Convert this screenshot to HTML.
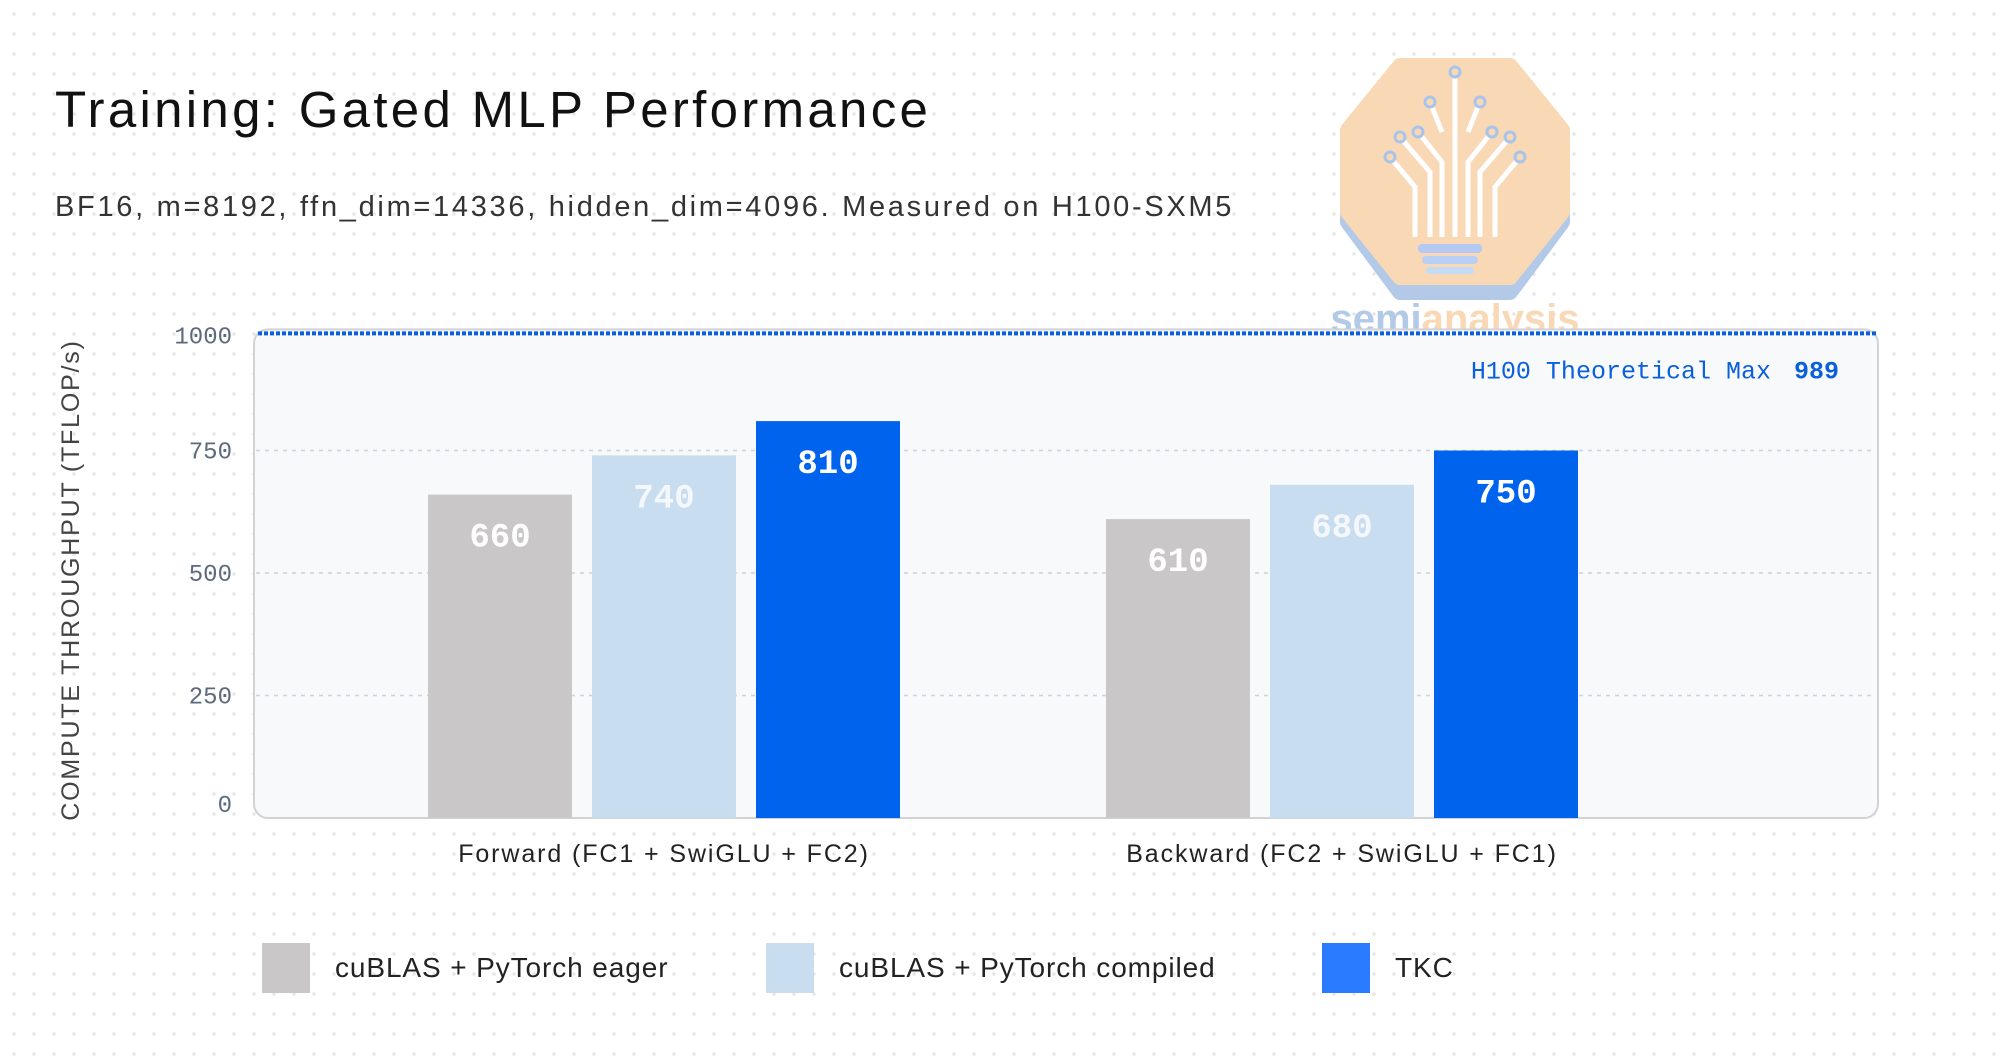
<!DOCTYPE html>
<html><head><meta charset="utf-8">
<style>
html,body{margin:0;padding:0}
body{width:2000px;height:1064px;overflow:hidden;position:relative;font-family:"Liberation Sans",sans-serif;
background-color:#fff;background-image:radial-gradient(circle,#e6e6e6 1.6px,transparent 2px);background-size:20px 20px;background-position:4px 4px}
.abs{position:absolute}
</style></head>
<body>
<div class="abs" style="left:55px;top:80px;font-size:51px;color:#111;white-space:nowrap;letter-spacing:3.3px">Training: Gated MLP Performance</div>
<div class="abs" style="left:55px;top:191px;font-size:29px;color:#333;white-space:nowrap;letter-spacing:2.7px">BF16, m=8192, ffn_dim=14336, hidden_dim=4096. Measured on H100-SXM5</div>

<svg class="abs" style="left:1330px;top:50px" width="260" height="300" viewBox="0 0 260 300">
 <g transform="translate(0,12)">
  <path d="M70 28 H180 L232 90 V150 L180 220 H70 L18 150 V90 Z" fill="#b3c9e8" stroke="#b3c9e8" stroke-width="16" stroke-linejoin="round" transform="translate(0,10)"/>
  <path d="M70 4 H180 L232 68 V150 L180 215 H70 L18 150 V68 Z" fill="#f9d8b6" stroke="#f9d8b6" stroke-width="16" stroke-linejoin="round"/>
  <g stroke="#fff" stroke-width="5" fill="none">
    <path d="M125 10 V175 M112 175 V100 L88 70 M138 175 V100 L162 70 M100 175 V110 L70 75 M150 175 V110 L180 75 M85 175 V125 L60 95 M165 175 V125 L190 95 M112 70 L100 40 M138 70 L150 40"/>
  </g>
  <g fill="#f9d8b6" stroke="#a9c4ea" stroke-width="3"><circle cx="125" cy="10" r="5"/><circle cx="100" cy="40" r="5"/><circle cx="150" cy="40" r="5"/><circle cx="70" cy="75" r="5"/><circle cx="180" cy="75" r="5"/><circle cx="60" cy="95" r="5"/><circle cx="190" cy="95" r="5"/><circle cx="88" cy="70" r="5"/><circle cx="162" cy="70" r="5"/></g>
  <rect x="88" y="182" width="64" height="9" rx="4" fill="#b3c9f3"/>
  <rect x="92" y="194" width="56" height="8" rx="4" fill="#b8d0f3"/>
  <rect x="96" y="205" width="48" height="7" rx="3" fill="#c5dcf5"/>
 </g>
  <text x="125" y="282" text-anchor="middle" font-family="Liberation Sans, sans-serif" font-weight="bold" font-size="40" fill="#b3c9e8">semi<tspan fill="#f9d8b6">analysis</tspan></text>
</svg>

<svg class="abs" id="chart" style="left:0;top:0" width="2000" height="1064"></svg>

<script>
const categories = ["Forward (FC1 + SwiGLU + FC2)", "Backward (FC2 + SwiGLU + FC1)"];
const seriesNames = ["cuBLAS + PyTorch eager", "cuBLAS + PyTorch compiled", "TKC"];
const eagerValues = [660, 610];
const compiledValues = [740, 680];
const tkcValues = [810, 750];
const yTicks = [0, 250, 500, 750, 1000];
const theoreticalMax = 989;

const svg = document.getElementById('chart');
const NS = 'http://www.w3.org/2000/svg';
const x0 = 254, x1 = 1878, yBase = 818, pxPerUnit = 0.49;
const yScale = v => yBase - v * pxPerUnit;
const groupCenters = [664, 1342];
const xScale = (g, s) => groupCenters[g] + (s - 1) * 164;
const barW = 144;
const colors = ["#c9c7c8", "#c8ddf0", "#0063ee"];
const legendColors = ["#c9c7c8", "#c8ddf0", "#2a7bff"];
const textColors = ["#fff", "#f4f8fc", "#fff"];
function mk(tag, attrs, txt){const e=document.createElementNS(NS,tag);for(const k in attrs)e.setAttribute(k,attrs[k]);if(txt!==undefined)e.textContent=txt;svg.appendChild(e);return e;}

const frame = mk('rect',{x:x0,y:yScale(theoreticalMax)-4,width:x1-x0,height:yBase-yScale(theoreticalMax)+4,rx:14,fill:'#f7f9fb',stroke:'#d2d3d5','stroke-width':2});



yTicks.forEach(t=>{
  const y=yScale(t);
  if(t>0 && t<1000){
    const g=mk('line',{x1:x0+2,x2:x1-2,y1:y,y2:y,stroke:'#cfd2d6','stroke-width':1.5,'stroke-dasharray':'4 5'});
    
    
  }
  const ty = t===1000 ? yScale(theoreticalMax)+2 : (t===0 ? y-14 : y);
  const l=mk('text',{x:232,y:ty+8,'text-anchor':'end','font-family':'Liberation Mono, monospace','font-size':24,fill:'#5c6a7d'},t);
  
  
});

const series=[eagerValues,compiledValues,tkcValues];
series.forEach((vals,s)=>{
  vals.forEach((v,g)=>{
    const cx=xScale(g,s);
    const r=mk('rect',{x:cx-barW/2,y:yScale(v),width:barW,height:yBase-yScale(v),fill:colors[s]});
    
    
    const t=mk('text',{x:cx,y:yScale(v)+52,'text-anchor':'middle','font-family':'Liberation Mono, monospace','font-weight':'bold','font-size':34,fill:textColors[s]},v);
    
    
  });
});

const my=yScale(theoreticalMax);
const ml=mk('line',{x1:x0+4,x2:x1-2,y1:my,y2:my,stroke:'#0a5fdc','stroke-width':4,'stroke-dasharray':'4 2'});


const mt=mk('text',{x:1839,y:my+45,'text-anchor':'end','font-family':'Liberation Mono, monospace','font-size':25,fill:'#0a5fdc'});


mt.innerHTML='H100 Theoretical Max <tspan font-weight="bold" dx="8">'+theoreticalMax+'</tspan>';

categories.forEach((c,g)=>{
  const t=mk('text',{x:groupCenters[g],y:862,'text-anchor':'middle','font-family':'Liberation Sans, sans-serif','font-size':25,fill:'#222','letter-spacing':1.9},c);
  
  
});

const yt=mk('text',{x:0,y:0,transform:'translate(79,580) rotate(-90)','text-anchor':'middle','font-family':'Liberation Sans, sans-serif','font-size':25,fill:'#444','letter-spacing':1.8},'COMPUTE THROUGHPUT (TFLOP/s)');



const legX=[262,766,1322];
seriesNames.forEach((n,s)=>{
  const r=mk('rect',{x:legX[s],y:943,width:48,height:50,fill:legendColors[s]});
  
  
  const t=mk('text',{x:legX[s]+73,y:977,'font-family':'Liberation Sans, sans-serif','font-size':28,fill:'#222','letter-spacing':0.9},n);
  
  
});
</script>
</body></html>
